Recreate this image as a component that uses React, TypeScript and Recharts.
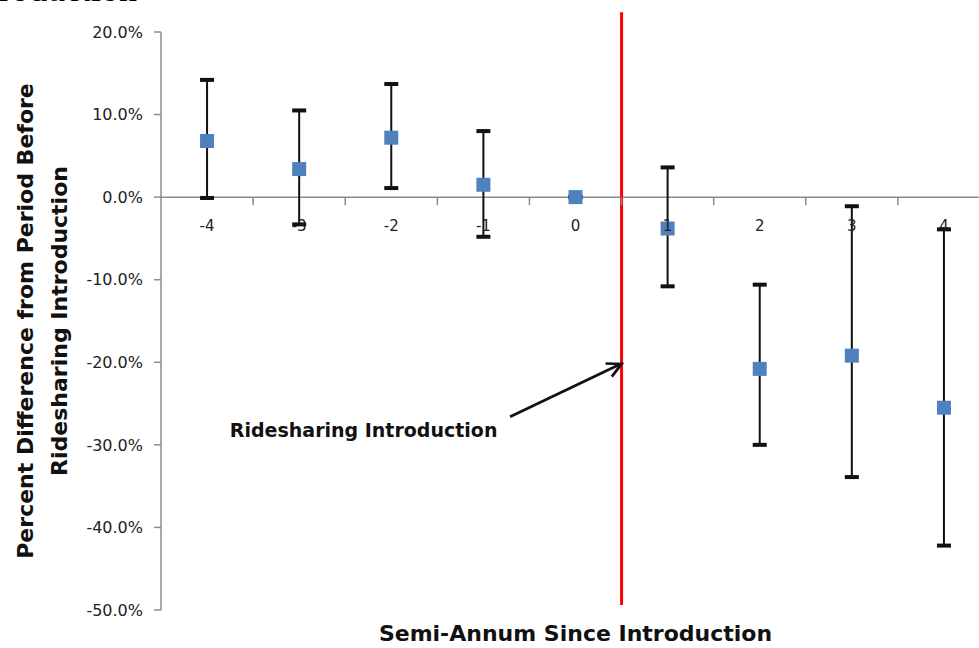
import React from 'react';
import {
  ScatterChart,
  Scatter,
  XAxis,
  YAxis,
  ErrorBar,
  ReferenceLine,
  ReferenceDot,
} from 'recharts';

// ---- data ----
const categories = [-4, -3, -2, -1, 0, 1, 2, 3, 4];
const categoryLabels = ['-4', '-3', '-2', '-1', '0', '1', '2', '3', '4'];
const estimates = [6.8, 3.4, 7.2, 1.5, 0, -3.8, -20.8, -19.2, -25.5];
const upperBounds = [14.2, 10.5, 13.7, 8.0, 0, 3.6, -10.6, -1.1, -3.9];
const lowerBounds = [-0.1, -3.3, 1.1, -4.8, 0, -10.8, -30.0, -33.9, -42.2];
const yTicks = [-50, -40, -30, -20, -10, 0, 10, 20];
const tickBoundaries = [-3.5, -2.5, -1.5, -0.5, 0.5, 1.5, 2.5, 3.5];
const introductionX = 0.5;
const introLineTop = 22.4;
const introLineBottom = -49.4;
const arrowFrom = { x: -0.71, y: -26.6 };
const arrowTo = { x: 0.5, y: -20.2 };
const annotationAt = { x: -2.3, y: -29.0 };
const annotationText = 'Ridesharing Introduction';
const yTitleLines = ['Percent Difference from Period Before', 'Ridesharing Introduction'];
const xTitle = 'Semi-Annum Since Introduction';

const data = categories.map((c, i) => ({
  x: c,
  y: estimates[i],
  err: [estimates[i] - lowerBounds[i], upperBounds[i] - estimates[i]],
}));
const upperCaps = categories.map((c, i) => ({ x: c, y: upperBounds[i] }));
const lowerCaps = categories.map((c, i) => ({ x: c, y: lowerBounds[i] }));

const FONT = '"DejaVu Sans", sans-serif';
const AXIS_GRAY = '#8c8c8c';
const MARKER = '#4F81BD';

const SquareMarker = (props: any) => {
  const { cx, cy } = props;
  if (cx == null || cy == null) return null;
  return <rect x={cx - 7} y={cy - 7} width={14} height={14} fill={MARKER} />;
};

const CapMarker = (props: any) => {
  const { cx, cy } = props;
  if (cx == null || cy == null) return null;
  return <rect x={cx - 7} y={cy - 2} width={14} height={4} fill="#111" />;
};

const ArrowShape = (props: any) => {
  const { x1, y1, x2, y2 } = props;
  if ([x1, y1, x2, y2].some((v) => v == null || isNaN(v))) return null;
  const ang = Math.atan2(y1 - y2, x1 - x2);
  const len = 16;
  const spread = (27 * Math.PI) / 180;
  const ax = x2 + len * Math.cos(ang + spread);
  const ay = y2 + len * Math.sin(ang + spread);
  const bx = x2 + len * Math.cos(ang - spread);
  const by = y2 + len * Math.sin(ang - spread);
  return (
    <g>
      <line x1={x1} y1={y1} x2={x2 - 1} y2={y2} stroke="#111" strokeWidth={2.7} />
      <polyline
        points={`${ax},${ay} ${x2},${y2} ${bx},${by}`}
        fill="none"
        stroke="#111"
        strokeWidth={2.7}
        strokeLinejoin="miter"
      />
    </g>
  );
};

const YTitle = (props: any) => {
  const vb = props.viewBox || {};
  const cy = (vb.y ?? 32) + (vb.height ?? 578) / 2;
  const bases = [33, 67];
  return (
    <g>
      {yTitleLines.map((t, i) => (
        <text
          key={i}
          x={bases[i]}
          y={cy}
          transform={`rotate(-90, ${bases[i]}, ${cy})`}
          textAnchor="middle"
          fontFamily={FONT}
          fontWeight="bold"
          fontSize={22}
          fill="#111"
        >
          {t}
        </text>
      ))}
    </g>
  );
};

export default function App() {
  return (
    <div
      style={{
        position: 'absolute',
        left: 0,
        top: 0,
        width: 979,
        height: 648,
        overflow: 'hidden',
        background: '#fff',
      }}
    >
      <div
        style={{
          position: 'absolute',
          left: -1,
          top: -29,
          fontFamily: '"Liberation Serif", serif',
          fontSize: 36,
          lineHeight: '36px',
          color: '#000',
          whiteSpace: 'nowrap',
        }}
      >
        roduction
      </div>
      <ScatterChart
        width={1000}
        height={648}
        margin={{ top: 32, right: 10, bottom: 38, left: 0 }}
      >
        <XAxis type="number" dataKey="x" domain={[-4.5, 4.5]} hide />
        <YAxis
          type="number"
          dataKey="y"
          domain={[-50, 20]}
          ticks={yTicks}
          interval={0}
          width={161}
          tickSize={7}
          tickMargin={11}
          axisLine={{ stroke: AXIS_GRAY, strokeWidth: 1.5 }}
          tickLine={{ stroke: AXIS_GRAY, strokeWidth: 1.5 }}
          tick={{ fontFamily: FONT, fontSize: 16, fill: '#222' }}
          tickFormatter={(v: number) => `${v.toFixed(1)}%`}
          label={<YTitle />}
        />
        <ReferenceLine y={0} stroke={AXIS_GRAY} strokeWidth={1.5} ifOverflow="visible" />
        {tickBoundaries.map((b) => (
          <ReferenceDot
            key={`tb${b}`}
            x={b}
            y={0}
            r={1}
            ifOverflow="visible"
            shape={(p: any) => (
              <line x1={p.cx} y1={p.cy} x2={p.cx} y2={p.cy + 8} stroke={AXIS_GRAY} strokeWidth={1.5} />
            )}
          />
        ))}
        <ReferenceLine
          segment={[
            { x: introductionX, y: introLineTop },
            { x: introductionX, y: introLineBottom },
          ]}
          stroke="#ff0000"
          strokeWidth={3}
          ifOverflow="visible"
        />
        <ReferenceLine
          segment={[arrowFrom, arrowTo]}
          ifOverflow="visible"
          shape={<ArrowShape />}
        />
        <ReferenceDot
          x={annotationAt.x}
          y={annotationAt.y}
          r={1}
          ifOverflow="visible"
          shape={(p: any) => (
            <text
              x={p.cx}
              y={p.cy}
              textAnchor="middle"
              fontFamily={FONT}
              fontWeight="bold"
              fontSize={19}
              fill="#111"
            >
              {annotationText}
            </text>
          )}
        />
        <Scatter data={upperCaps} isAnimationActive={false} shape={<CapMarker />} />
        <Scatter data={lowerCaps} isAnimationActive={false} shape={<CapMarker />} />
        <Scatter data={data} isAnimationActive={false} shape={<SquareMarker />}>
          <ErrorBar
            dataKey="err"
            direction="y"
            width={0}
            stroke="#111"
            strokeWidth={2}
            isAnimationActive={false}
          />
        </Scatter>
        {categories.map((c, i) => (
          <ReferenceDot
            key={`cl${c}`}
            x={c}
            y={0}
            r={1}
            ifOverflow="visible"
            zIndex={1000}
            shape={(p: any) => (
              <text
                x={p.cx}
                y={p.cy + 34}
                textAnchor="middle"
                fontFamily={FONT}
                fontSize={15}
                fill="#222"
              >
                {categoryLabels[i]}
              </text>
            )}
          />
        ))}
        <ReferenceDot
          x={0}
          y={-50}
          r={1}
          ifOverflow="visible"
          shape={(p: any) => (
            <text
              x={p.cx}
              y={p.cy + 31}
              textAnchor="middle"
              fontFamily={FONT}
              fontWeight="bold"
              fontSize={22}
              fill="#111"
            >
              {xTitle}
            </text>
          )}
        />
      </ScatterChart>
    </div>
  );
}
